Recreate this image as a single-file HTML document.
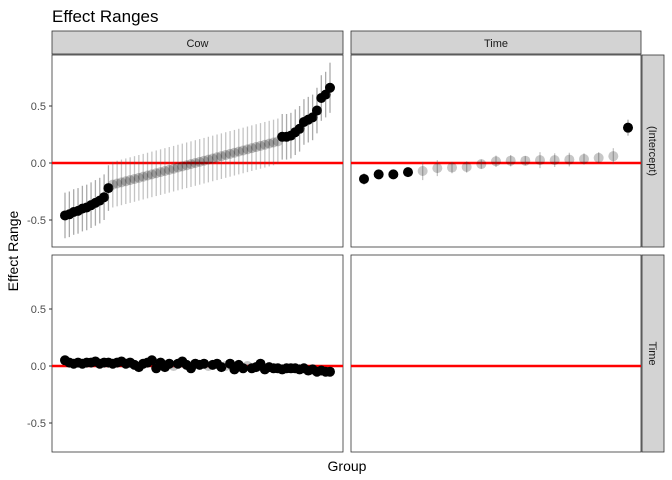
<!DOCTYPE html>
<html><head><meta charset="utf-8"><style>
body{margin:0;background:#fff}
svg{display:block;font-family:"Liberation Sans",Arial,sans-serif}
</style></head><body>
<svg id="c" width="672" height="480" viewBox="0 0 672 480">
<text x="52" y="22" font-size="17" fill="#000">Effect Ranges</text>
<text x="347" y="471" font-size="14" text-anchor="middle">Group</text>
<text transform="translate(18,251) rotate(-90)" font-size="14" text-anchor="middle">Effect Range</text>
<g id="g"></g>
</svg>
<script>
// Cow intercept estimates (sorted)
const cowIntercept = [-0.46,-0.45,-0.43,-0.42,-0.40,-0.39,-0.37,-0.35,-0.33,-0.30,-0.22,
-0.19,-0.18,-0.17,-0.16,-0.15,-0.14,-0.13,-0.12,-0.11,-0.10,-0.09,-0.08,-0.07,-0.06,-0.05,-0.04,-0.03,-0.02,-0.01,0.00,
0.01,0.02,0.03,0.04,0.05,0.06,0.07,0.08,0.09,0.10,0.11,0.12,0.13,0.14,0.15,0.16,0.17,0.18,0.19,
0.23,0.23,0.24,0.27,0.30,0.36,0.38,0.40,0.46,0.57,0.60,0.66];
const cowInterceptErr = [0.2,0.2,0.2,0.2,0.2,0.2,0.2,0.2,0.2,0.2,0.2,
0.2,0.2,0.2,0.2,0.2,0.2,0.2,0.2,0.2,0.2,0.2,0.2,0.2,0.2,0.2,0.2,0.2,0.2,0.2,0.2,
0.2,0.2,0.2,0.2,0.2,0.2,0.2,0.2,0.2,0.2,0.2,0.2,0.2,0.2,0.2,0.2,0.2,0.2,0.2,
0.2,0.2,0.2,0.2,0.2,0.2,0.2,0.2,0.2,0.2,0.2,0.22];
// Cow time slopes
const cowTime = [0.05,0.03,0.02,0.03,0.02,0.03,0.03,0.04,0.02,0.03,0.03,0.02,0.03,0.04,0.02,0.03,0.01,-0.01,0.02,0.03,0.05,-0.02,0.03,-0.01,0.02,0.00,0.02,0.04,0.01,-0.02,0.02,0.01,0.02,0.00,0.01,0.02,-0.01,0.00,0.02,-0.03,0.01,-0.02,0.00,-0.02,-0.01,0.02,-0.03,-0.01,-0.02,-0.02,-0.03,-0.02,-0.02,-0.02,-0.03,-0.02,-0.04,-0.03,-0.05,-0.04,-0.05,-0.05];
const cowTimeErr = cowTime.map(()=>0.008);
// Time intercepts
const timeIntercept = [-0.14,-0.10,-0.10,-0.08,-0.07,-0.045,-0.04,-0.035,-0.01,0.015,0.02,0.02,0.025,0.025,0.03,0.035,0.045,0.06,0.31];
const timeInterceptErr = [0.05,0.04,0.04,0.04,0.08,0.07,0.05,0.05,0.04,0.05,0.05,0.04,0.07,0.06,0.06,0.05,0.05,0.07,0.07];
const yTicks = [-0.5,0.0,0.5];
const yTickLabels = ["-0.5","0.0","0.5"];

const NS="http://www.w3.org/2000/svg", g=document.getElementById('g');
function el(t,a,p){const e=document.createElementNS(NS,t);for(const k in a)e.setAttribute(k,a[k]);(p||g).appendChild(e);return e;}
const cols=[[52,343],[351,641]], rows=[[55,247,163],[255,452,366]];
const k=114;
function panel(ci,ri,vals,errs,name){
  const [x0,x1]=cols[ci],[y0,y1,zy]=rows[ri];
  const pg=el('g',{});
  
  
  const r=el('rect',{x:x0,y:y0,width:x1-x0,height:y1-y0,fill:'#fff',stroke:'#333','stroke-width':0.8},pg);
  
  
  const ys=v=>zy-v*k;
  if(ci===0){yTicks.forEach((t,i)=>{
    const l=el('line',{x1:x0-3,x2:x0,y1:ys(t),y2:ys(t),stroke:'#333'});
    
    
    const tx=el('text',{x:x0-6,y:ys(t)+4,'font-size':11,fill:'#4d4d4d','text-anchor':'end'});
    tx.textContent=yTickLabels[i];
    
    
  });}
  const n=vals.length,pad=13,step=n>1?(x1-x0-2*pad)/(n-1):0;
  const zl=el('line',{x1:x0,x2:x1,y1:zy,y2:zy,stroke:'#ff0000','stroke-width':2.5},pg);
  
  
  vals.forEach((v,i)=>{
    const x=x0+pad+i*step,lo=v-errs[i],hi=v+errs[i],sig=lo>0||hi<0;
    const b=el('line',{x1:x,x2:x,y1:ys(lo),y2:ys(hi),stroke:'#555','stroke-opacity':sig?0.5:0.35,'stroke-width':1.3},pg);
    
    
    const c=el('circle',{cx:x,cy:ys(v),r:5,fill:'#000','fill-opacity':sig?1:0.22},pg);
    
    
  });
}
panel(0,0,cowIntercept,cowInterceptErr,'panel-cow-intercept');
panel(1,0,timeIntercept,timeInterceptErr,'panel-time-intercept');
panel(0,1,cowTime,cowTimeErr,'panel-cow-time');
panel(1,1,[],[],'panel-time-time');
// strips
[['Cow',0],['Time',1]].forEach(([t,i])=>{
  const r=el('rect',{x:cols[i][0],y:31,width:cols[i][1]-cols[i][0],height:23,fill:'#d3d3d3',stroke:'#333','stroke-width':0.8});
  
  
  const tx=el('text',{x:(cols[i][0]+cols[i][1])/2,y:47,'font-size':11,fill:'#1a1a1a','text-anchor':'middle'});
  tx.textContent=t;
  
  
});
[['(Intercept)',0],['Time',1]].forEach(([t,i])=>{
  const r=el('rect',{x:642,y:rows[i][0],width:22,height:rows[i][1]-rows[i][0],fill:'#d3d3d3',stroke:'#333','stroke-width':0.8});
  
  
  const cy=(rows[i][0]+rows[i][1])/2;
  const tx=el('text',{x:0,y:0,'font-size':11,fill:'#1a1a1a','text-anchor':'middle',transform:`translate(649,${cy}) rotate(90)`});
  tx.textContent=t;
  
  
});
</script>
</body></html>
